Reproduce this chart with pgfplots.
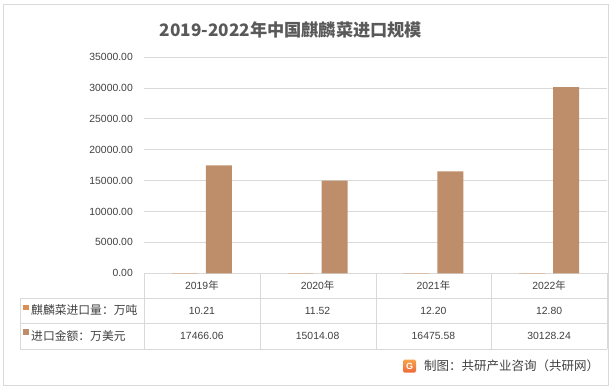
\documentclass[border=0pt]{standalone}
\usepackage{fontspec}
\setmainfont{Liberation Sans}
\newfontfamily\cjk{Noto Sans CJK SC}
\usepackage{pgfplots}
\pgfplotsset{compat=1.18}
\definecolor{gridc}{HTML}{D9D9D9}
\definecolor{txt}{HTML}{404040}
\definecolor{titlec}{HTML}{595959}
\definecolor{sone}{HTML}{DB8F52}
\definecolor{stwo}{HTML}{BE8E6B}
\definecolor{logoa}{HTML}{F7A24A}
\definecolor{logob}{HTML}{EE6A3A}
\begin{document}
\begin{tikzpicture}
\begin{scope}[x=1pt,y=-1pt]
\path[use as bounding box] (0,0) rectangle (616,391);
\draw[gridc, line width=0.8pt] (3.5,4.5) rectangle (608,385);
\node[font=\cjk\bfseries\fontsize{17.2}{19}\selectfont, text=titlec] at (291,30) {2019-2022年中国麒麟菜进口规模};
\end{scope}
\begin{axis}[
  at={(144pt,-273.3pt)}, anchor=south west,
  scale only axis, width=463pt, height=216.3pt,
  xmin=0.5, xmax=4.5, ymin=0, ymax=35000,
  ytick={0,5000,...,35000},
  scaled y ticks=false,
  xtick=\empty,
  axis line style={draw=none},
  major tick length=0pt,
  ymajorgrids, grid style={gridc, line width=0.8pt},
  yticklabel style={font=\fontsize{10.4}{12}\selectfont, text=txt, inner sep=0pt, xshift=-11pt},
  yticklabel={\pgfmathprintnumber[fixed,fixed zerofill,precision=2,1000 sep={},assume math mode=true]{\tick}},
  ybar=8pt, bar width=26pt,
  clip=false,
]
\addplot[fill=sone, draw=none] coordinates {(1,10.21) (2,11.52) (3,12.20) (4,12.80)};
\addplot[fill=stwo, draw=none] coordinates {(1,17466.06) (2,15014.08) (3,16475.58) (4,30128.24)};
\end{axis}
\begin{scope}[x=1pt,y=-1pt]
\draw[gridc, line width=0.8pt] (20,298)--(607,298) (20,323)--(607,323) (20,349)--(607,349) (20,298)--(20,349);
\foreach \xx in {144,260,376,491,607} {\draw[gridc, line width=0.8pt] (\xx,273.3)--(\xx,349);}
\foreach \xx/\yr/\a/\b in {201.9/2019/10.21/17466.06, 317.6/2020/11.52/15014.08, 433.4/2021/12.20/16475.58, 549.1/2022/12.80/30128.24} {
  \node[font=\fontsize{10.4}{12}\selectfont, text=txt] at (\xx,285.5) {\yr{\cjk 年}};
  \node[font=\fontsize{10.4}{12}\selectfont, text=txt] at (\xx,310.5) {\a};
  \node[font=\fontsize{10.4}{12}\selectfont, text=txt] at (\xx,336) {\b};
}
\fill[sone] (23,304.5) rectangle (28.5,310);
\fill[stwo] (23,329.3) rectangle (28.5,334.8);
\node[font=\cjk\fontsize{11.8}{13}\selectfont, text=txt, anchor=west, inner sep=0pt] at (31,310.5) {麒麟菜进口量：万吨};
\node[font=\cjk\fontsize{11.8}{13}\selectfont, text=txt, anchor=west, inner sep=0pt] at (31,336) {进口金额：万美元};
\shade[top color=logoa, bottom color=logob, rounded corners=1.5pt] (403,359.5) rectangle (416,372.5);
\node[font=\bfseries\fontsize{9}{10}\selectfont, text=white, inner sep=0pt] at (409.5,366) {G};
\node[font=\cjk\fontsize{12.5}{14}\selectfont, text=txt, anchor=west, inner sep=0pt] at (424,366) {制图：共研产业咨询（共研网）};
\end{scope}
\end{tikzpicture}
\end{document}
